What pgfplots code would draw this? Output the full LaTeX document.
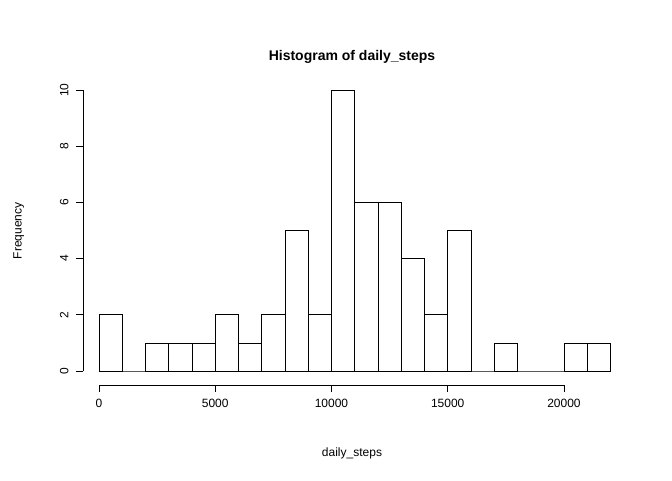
\documentclass[border=0pt]{standalone}
\usepackage{pgfplots}
\pgfplotsset{compat=1.18}
\usepackage{fontspec}
\setmainfont{Liberation Sans}
\begin{document}
\begin{tikzpicture}
\path[use as bounding box] (0,0) rectangle (504pt,360pt);
\begin{axis}[at={(74.25pt,81.75pt)},anchor=south west,
  scale only axis, width=383.6pt, height=210.75pt,
  xmin=0,xmax=22000,ymin=0,ymax=10,
  axis lines=none, clip=false]
\addplot[ybar interval, draw=black, fill=white, line width=0.6pt] coordinates {
(0,2)(1000,0)(2000,1)(3000,1)(4000,1)(5000,2)(6000,1)(7000,2)(8000,5)(9000,2)
(10000,10)(11000,6)(12000,6)(13000,4)(14000,2)(15000,5)(16000,0)(17000,1)
(18000,0)(19000,0)(20000,1)(21000,1)(22000,1)};
\draw[line width=0.6pt] ([yshift=-10.5pt]axis cs:0,0) -- ([yshift=-10.5pt]axis cs:20000,0);
\pgfplotsinvokeforeach{0,5000,10000,15000,20000}{
  \draw[line width=0.6pt] ([yshift=-10.5pt]axis cs:#1,0) -- ([yshift=-15.75pt]axis cs:#1,0)
    node[below=2pt,font=\fontsize{9}{10}\selectfont]{#1};}
\draw[line width=0.6pt] ([xshift=-12pt]axis cs:0,0) -- ([xshift=-12pt]axis cs:0,10);
\pgfplotsinvokeforeach{0,2,4,6,8,10}{
  \draw[line width=0.6pt] ([xshift=-12pt]axis cs:0,#1) -- ([xshift=-17.25pt]axis cs:0,#1)
    node[left=2pt,rotate=90,anchor=south,font=\fontsize{9}{10}\selectfont]{#1};}
\end{axis}
\node[font=\fontsize{10.5}{12}\selectfont\bfseries] at (264pt,317pt) {Histogram of daily\_steps};
\node[font=\fontsize{9}{10}\selectfont] at (264pt,20pt) {daily\_steps};
\node[rotate=90,font=\fontsize{9}{10}\selectfont] at (14pt,187pt) {Frequency};
\end{tikzpicture}
\end{document}
